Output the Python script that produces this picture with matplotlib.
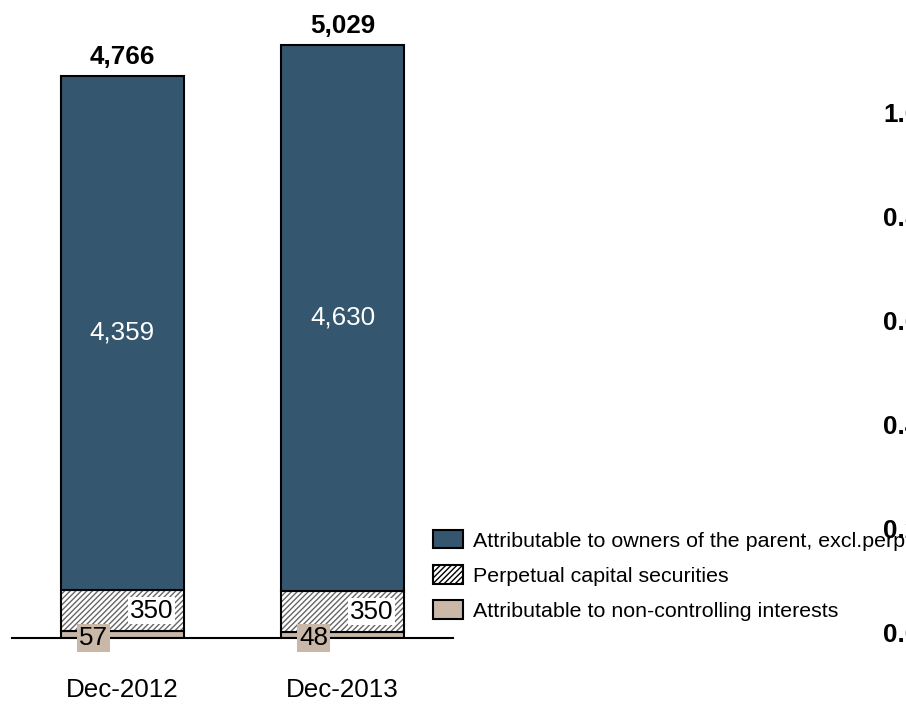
import matplotlib
matplotlib.use("Agg")
import matplotlib.pyplot as plt
from matplotlib.patches import Patch

# Datos del grafico
categorias = ["Dec-2012", "Dec-2013"]
propietarios = [4359, 4630]      # Attributable to owners of the parent, excl.perp
perpetuos = [350, 350]           # Perpetual capital securities
no_controlantes = [57, 48]       # Attributable to non-controlling interests
totales = [4766, 5029]
ticks_derecha = [0.0, 0.2, 0.4, 0.6, 0.8, 1.0]
etiquetas_derecha = ["0.0", "0.2", "0.4", "0.6", "0.8", "1.0"]

azul = "#34566E"
beige = "#C9B8A8"
fs = 18.7

plt.rcParams["font.family"] = ["Liberation Sans", "DejaVu Sans"]
plt.rcParams["hatch.linewidth"] = 1.0

W, H = 906, 704
fig = plt.figure(figsize=(W / 100, H / 100), dpi=100)

# Eje principal: base en y=638 px, 0.118 px por unidad
ax = fig.add_axes([12 / W, 66 / H, 441 / W, 625.4 / H])
ax.set_xlim(-0.5, 1.5)
ax.set_ylim(0, 5300)
ax.axis("off")

x = list(range(len(categorias)))
ancho = 0.556
base_perp = no_controlantes
base_prop = [a + b for a, b in zip(no_controlantes, perpetuos)]

ax.bar(x, no_controlantes, ancho, color=beige, edgecolor="black", linewidth=1.5)
ax.bar(x, perpetuos, ancho, bottom=base_perp, color="white", edgecolor="#666666",
       hatch="//////", linewidth=0)
ax.bar(x, perpetuos, ancho, bottom=base_perp, color="none", edgecolor="black", linewidth=1.5)
ax.bar(x, propietarios, ancho, bottom=base_prop, color=azul, edgecolor="black", linewidth=1.5)

ax.plot([-0.5, 1.5], [0, 0], color="black", linewidth=1.5, clip_on=False)

for i in x:
    # total arriba
    ax.annotate(f"{totales[i]:,}", (i, totales[i]), xytext=(0, 13.5), textcoords="offset points",
                ha="center", va="center", fontsize=fs, fontweight="bold")
    # segmento principal
    ax.text(i, base_prop[i] + propietarios[i] / 2, f"{propietarios[i]:,}", ha="center",
            va="center", fontsize=fs, color="white")
    # perpetuos
    ax.text(i + 0.1315, base_perp[i] + perpetuos[i] / 2, f"{perpetuos[i]:,}", ha="center",
            va="center", fontsize=fs, color="black",
            bbox=dict(boxstyle="square,pad=0.06", facecolor="white", edgecolor="none"))
    # no controlantes
    ax.text(i - 0.1315, 0, f"{no_controlantes[i]:,}", ha="center", va="center", fontsize=fs,
            color="black", bbox=dict(boxstyle="square,pad=0.08", facecolor=beige, edgecolor="none"))
    # categoria
    ax.annotate(categorias[i], (i, 0), xytext=(0, -37.5), textcoords="offset points",
                ha="center", va="center", fontsize=fs)

# Eje secundario (etiquetas cortadas en el borde derecho)
ax2 = fig.add_axes([12 / W, 66 / H, 871 / W, 625.4 / H])
ax2.patch.set_visible(False)
for s in ax2.spines.values():
    s.set_visible(False)
ax2.set_xticks([])
ax2.set_ylim(-5 / 521, 620.4 / 521)
ax2.yaxis.tick_right()
ax2.set_yticks(ticks_derecha)
ax2.set_yticklabels(etiquetas_derecha, fontsize=fs, fontweight="bold")
ax2.tick_params(axis="y", length=0, pad=0)

# Leyenda
handles = [
    Patch(facecolor=azul, edgecolor="black", linewidth=1.5),
    Patch(facecolor="white", edgecolor="black", hatch="//////", linewidth=1.5),
    Patch(facecolor=beige, edgecolor="black", linewidth=1.5),
]
labels = ["Attributable to owners of the parent, excl.perp",
          "Perpetual capital securities",
          "Attributable to non-controlling interests"]
fig.legend(handles, labels, loc="upper left", bbox_to_anchor=(433 / W, 1 - 530 / H),
           frameon=False, fontsize=15.4, borderpad=0, borderaxespad=0,
           handlelength=1.4, handleheight=0.95, handletextpad=0.45, labelspacing=0.68)

fig.savefig("out.png", dpi=100)
